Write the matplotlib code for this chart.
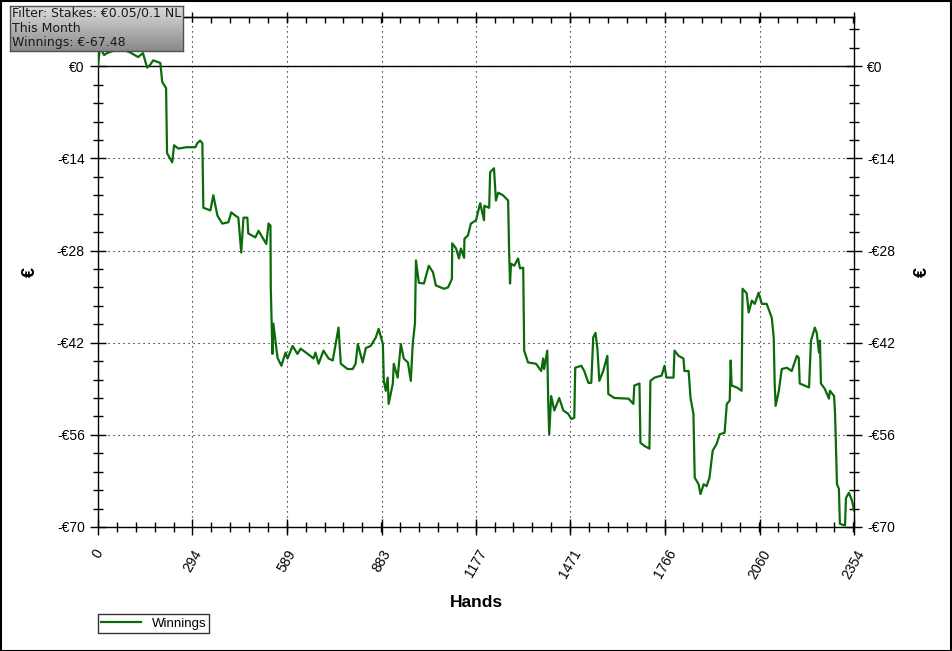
import matplotlib
matplotlib.use("Agg")
import matplotlib.pyplot as plt
import numpy as np
from matplotlib.ticker import AutoMinorLocator, FuncFormatter
from matplotlib.patches import Rectangle

# ---- data ----
hands = [0, 6, 19, 28, 69, 100, 125, 140, 153, 162, 172, 194, 200, 212, 215, 231, 237, 250, 275, 303,
         309, 318, 325, 328, 350, 359, 372, 387, 406, 415, 428, 437, 446, 453, 465, 468, 490, 500, 524, 531,
         537, 538, 543, 546, 559, 571, 584, 590, 606, 621, 631, 653, 671, 677, 687, 702, 718, 731, 740, 749,
         756, 777, 793, 802, 809, 824, 834, 849, 865, 874, 887, 890, 896, 902, 905, 918, 921, 933, 943, 952,
         965, 974, 980, 987, 990, 999, 1015, 1030, 1043, 1052, 1077, 1090, 1102, 1103, 1115, 1124, 1130, 1140, 1141, 1152,
         1161, 1177, 1190, 1202, 1203, 1218, 1221, 1233, 1239, 1246, 1261, 1277, 1280, 1283, 1286, 1296, 1308, 1314, 1324, 1327,
         1339, 1364, 1380, 1386, 1389, 1399, 1402, 1405, 1411, 1421, 1436, 1449, 1464, 1474, 1483, 1486, 1505, 1514, 1527, 1536,
         1542, 1549, 1555, 1561, 1573, 1586, 1589, 1608, 1652, 1667, 1670, 1686, 1689, 1702, 1717, 1720, 1733, 1755, 1764, 1770,
         1792, 1795, 1808, 1823, 1826, 1839, 1845, 1854, 1858, 1870, 1876, 1886, 1895, 1904, 1914, 1926, 1936, 1951, 1958, 1967,
         1970, 1973, 1989, 2004, 2007, 2020, 2026, 2036, 2045, 2057, 2067, 2082, 2098, 2104, 2107, 2110, 2120, 2129, 2145, 2160,
         2176, 2182, 2185, 2214, 2220, 2232, 2238, 2245, 2248, 2251, 2263, 2276, 2279, 2292, 2295, 2301, 2307, 2310, 2326, 2329,
         2338, 2348, 2354]
winnings = [0.0, 2.9, 1.7, 2.0, 2.7, 2.1, 1.4, 2.0, -0.2, 0.2, 0.9, 0.5, -2.4, -3.3, -13.2, -14.6, -12.0, -12.5, -12.3, -12.3,
            -11.7, -11.3, -11.7, -21.5, -21.9, -19.6, -22.7, -23.9, -23.7, -22.2, -22.7, -23.0, -28.3, -23.0, -23.0, -25.4, -26.0, -25.0, -27.0, -23.9,
            -24.2, -33.6, -43.7, -39.1, -44.3, -45.5, -43.5, -44.4, -42.5, -43.7, -42.9, -43.7, -44.4, -43.5, -45.2, -43.2, -44.4, -44.7, -42.2, -39.7,
            -45.2, -46.0, -46.0, -45.2, -42.2, -45.0, -42.8, -42.5, -41.2, -39.9, -42.2, -47.8, -49.3, -47.3, -51.3, -48.2, -45.2, -47.3, -42.2, -44.4,
            -45.0, -47.8, -42.2, -39.0, -29.5, -32.9, -33.0, -30.3, -31.3, -33.3, -33.8, -33.6, -32.3, -26.9, -27.7, -29.2, -27.7, -29.1, -26.2, -25.7,
            -23.9, -23.4, -20.8, -23.4, -21.2, -21.5, -16.1, -15.5, -20.4, -19.2, -19.6, -20.4, -28.0, -33.0, -30.0, -30.3, -29.2, -30.7, -30.6, -43.2,
            -45.0, -45.2, -46.3, -44.4, -46.0, -43.2, -51.3, -55.9, -50.1, -52.3, -50.4, -52.3, -52.8, -53.6, -53.4, -45.8, -45.5, -46.3, -48.1, -48.1,
            -41.2, -40.5, -42.9, -47.8, -46.3, -44.0, -49.8, -50.4, -50.5, -51.3, -48.5, -48.2, -57.2, -57.7, -58.1, -47.8, -47.3, -47.0, -45.5, -47.3,
            -47.3, -43.2, -44.0, -44.4, -46.3, -46.3, -50.4, -52.8, -62.5, -63.5, -65.0, -63.5, -63.8, -62.5, -58.4, -57.4, -55.9, -55.7, -51.3, -50.8,
            -44.7, -48.5, -48.8, -49.3, -33.8, -34.5, -37.4, -35.6, -36.1, -34.4, -36.1, -36.1, -38.2, -41.2, -48.2, -51.6, -49.3, -46.0, -45.8, -46.3,
            -44.0, -44.3, -48.2, -48.8, -41.7, -39.7, -40.5, -43.5, -41.7, -48.2, -49.0, -50.5, -49.3, -50.1, -52.8, -63.5, -64.2, -69.5, -69.8, -65.6,
            -64.8, -66.0, -67.48]
x_ticks = [0, 294, 589, 883, 1177, 1471, 1766, 2060, 2354]
y_ticks = [0, -14, -28, -42, -56, -70]
series_name = "Winnings"
info_lines = ["Filter: Stakes: €0.05/0.1 NL", "This Month", "Winnings: €-67.48"]

W, H = 952, 651
fig = plt.figure(figsize=(W / 100, H / 100), dpi=100)
fig.patch.set_facecolor("white")

L, R, T, B = 98, 854, 17.3, 527
ax = fig.add_axes([L / W, 1 - B / H, (R - L) / W, (B - T) / H])

line, = ax.plot(hands, winnings, color="#0b6b0b", lw=1.6, label=series_name, zorder=3)
ax.axhline(0, color="black", lw=1.0, zorder=2)

ax.set_xlim(0, 2354)
ax.set_ylim(-70, 7.44)
ax.set_xticks(x_ticks)
ax.set_xticklabels([str(v) for v in x_ticks])
ax.set_yticks(y_ticks)
ax.yaxis.set_major_formatter(FuncFormatter(lambda v, p: f"-€{abs(v):g}" if v < 0 else f"€{v:g}"))
ax.xaxis.set_minor_locator(AutoMinorLocator(5))
ax.yaxis.set_minor_locator(AutoMinorLocator(5))

ax.grid(True, which="major", color="black", linestyle=(0, (1, 3.5)), lw=0.8, zorder=1)

for s in ax.spines.values():
    s.set_color("black")
    s.set_linewidth(1.0)

ax.tick_params(axis="both", which="major", direction="inout", length=11, width=1, color="black",
               labelsize=10, pad=4)
ax.tick_params(axis="both", which="minor", direction="inout", length=7, width=1, color="black")
ax.tick_params(axis="y", which="both", left=True, right=True, labelleft=True, labelright=True)
ax.tick_params(axis="x", which="both", bottom=True, top=False, labeltop=False)
ax.tick_params(axis="x", which="major", pad=9)
for lab in ax.get_yticklabels():
    lab.set_family("Liberation Sans")
for lab in ax.get_xticklabels():
    lab.set_family("Liberation Sans")
    lab.set_rotation(60)
    lab.set_ha("center")
    lab.set_va("top")

# top ticks (short, inward)
sec = ax.secondary_xaxis("top")
sec.set_xticks(x_ticks)
sec.xaxis.set_minor_locator(AutoMinorLocator(5))
sec.tick_params(which="major", direction="inout", length=7, width=1, labeltop=False)
sec.tick_params(which="minor", direction="in", length=4, width=1)
sec.spines["top"].set_linewidth(1.0)

ax.set_xlabel("Hands", fontsize=12.5, fontweight="bold", family="Liberation Sans", labelpad=10)
for xpix in (30, 922):
    fig.text(xpix / W, 1 - 272 / H, "€", rotation=90, fontsize=13, fontweight="bold",
             family="Liberation Sans", ha="center", va="center")

leg = fig.legend(handles=[line], loc="upper left", bbox_to_anchor=(98 / W, 1 - 614 / H),
                 frameon=True, fancybox=False, borderpad=0.25, handlelength=3.0,
                 prop={"family": "Liberation Sans", "size": 9.5}, borderaxespad=0)
leg.get_frame().set_edgecolor("black")
leg.get_frame().set_linewidth(1.0)

# info box with gradient
bx0, by0, bx1, by1 = 10, 6, 183, 51
iax = fig.add_axes([bx0 / W, 1 - by1 / H, (bx1 - bx0) / W, (by1 - by0) / H], zorder=10)
grad = np.linspace(0, 1, 64).reshape(-1, 1)
iax.imshow(grad, aspect="auto", cmap=matplotlib.colors.LinearSegmentedColormap.from_list(
    "g", ["#dcdcdc", "#8a8a8a"]), extent=(0, 1, 0, 1), origin="upper")
iax.set_xlim(0, 1)
iax.set_ylim(0, 1)
iax.set_xticks([])
iax.set_yticks([])
for s in iax.spines.values():
    s.set_color("#505050")
    s.set_linewidth(1.0)
for i, t in enumerate(info_lines):
    iax.text(0.012, 1 - (7.5 + 14.5 * i) / (by1 - by0), t, fontsize=9, family="DejaVu Sans",
             color="#1a1a1a", ha="left", va="center", transform=iax.transAxes)

fig.patches.append(Rectangle((0.5 / W, 0.5 / H), 1 - 1.5 / W, 1 - 1.5 / H, transform=fig.transFigure,
                             fill=False, edgecolor="black", lw=1.5))

fig.savefig("out.png", dpi=100)
